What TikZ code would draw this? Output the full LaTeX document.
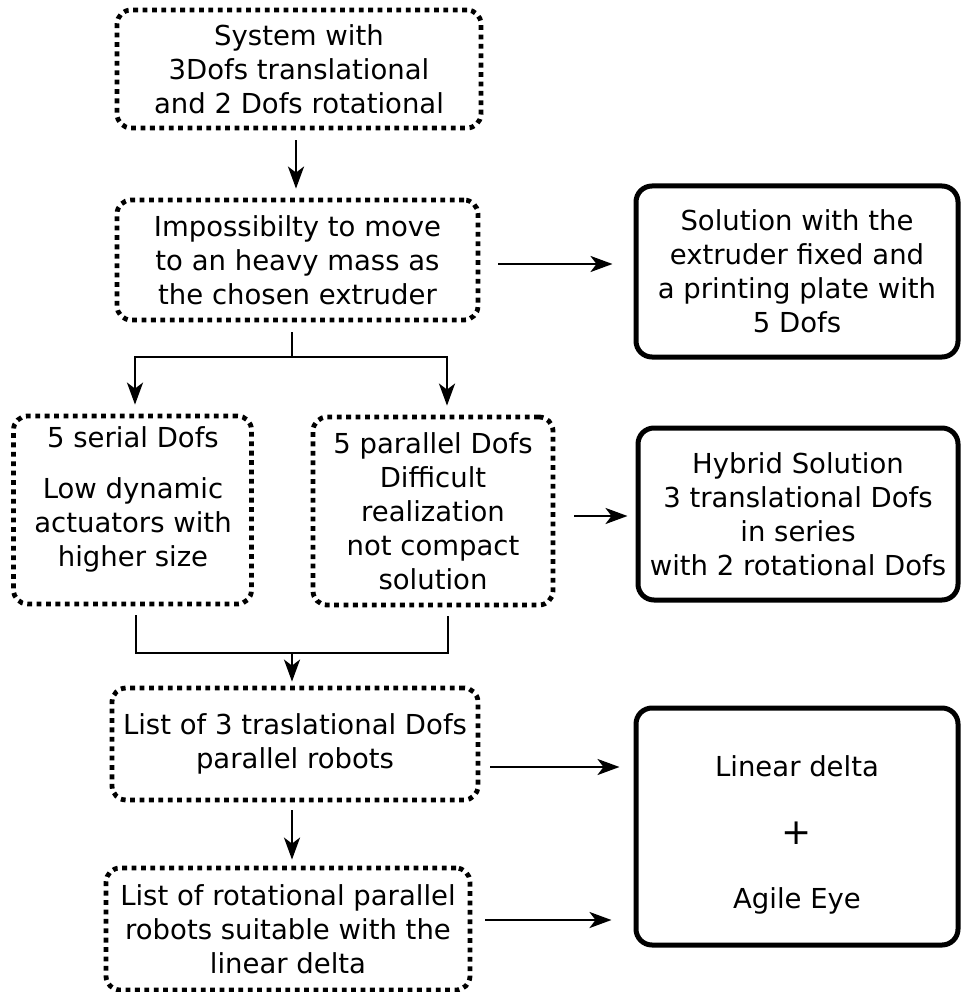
\documentclass[tikz,border=0pt]{standalone}
\usepackage{fontspec}
\setmainfont{DejaVu Sans}
\usetikzlibrary{arrows.meta}
\begin{document}
\begin{tikzpicture}[x=1pt,y=-1pt,
  dotbox/.style={draw, line width=4.8pt, dash pattern=on 4.8pt off 4.6pt,
    rounded corners=14pt, inner sep=0pt, align=center},
  solidbox/.style={draw, line width=5pt, rounded corners=16pt,
    inner sep=0pt, align=center},
  txt/.style={inner sep=0pt, align=center},
  conn/.style={line width=2.7pt},
  arr/.style={conn, -{Stealth[length=22pt, width=16pt, inset=6pt]}},
  font=\fontsize{27.5}{34}\selectfont]
\useasboundingbox (0,0) rectangle (960,992);

% left column of dotted boxes
\node[dotbox, minimum width=364pt, minimum height=118pt] (sys) at (299,69)
  {System with\\3Dofs translational\\and 2 Dofs rotational};
\node[dotbox, minimum width=361pt, minimum height=120pt] (imp) at (297.5,260)
  {Impossibilty to move\\to an heavy mass as\\the chosen extruder};
\node[dotbox, minimum width=238pt, minimum height=188pt] (ser) at (132.5,510) {};
\node[txt] (sert) at (133,499) {5 serial Dofs\\[17pt]Low dynamic\\actuators with\\higher size};
\node[dotbox, minimum width=240pt, minimum height=188pt] (par) at (433,511)
  {5 parallel Dofs\\Difficult\\realization\\not compact\\solution};
\node[dotbox, minimum width=366pt, minimum height=112pt] (tra) at (295,744)
  {List of 3 traslational Dofs\\parallel robots};
\node[dotbox, minimum width=364pt, minimum height=122pt] (rot) at (288,929)
  {List of rotational parallel\\robots suitable with the\\linear delta};

% right column of solid boxes
\node[solidbox, minimum width=322pt, minimum height=171pt] (fix) at (797,271.5)
  {Solution with the\\extruder fixed and\\a printing plate with\\5 Dofs};
\node[solidbox, minimum width=320pt, minimum height=172pt] (hyb) at (798,514)
  {Hybrid Solution\\3 translational Dofs\\in series\\with 2 rotational Dofs};
\node[solidbox, minimum width=322pt, minimum height=237pt] (lin) at (797,826.5) {};
\node[txt] (lint) at (797,835) {Linear delta\\[34pt]{\fontsize{36}{36}\selectfont +}\\[30pt]Agile Eye};

% junction points of the split and merge connectors
\coordinate (split) at (292,357);
\coordinate (merge) at (292,653);

% connectors
\draw[arr] ([yshift=-10pt]sys.south -| 296,0) -- ([yshift=9pt]imp.north -| 296,0);
\draw[arr] ([xshift=18pt]imp.east |- 0,264) -- ([xshift=-21pt]fix.west |- 0,264);
\draw[conn] ([yshift=-10pt]imp.south -| split) -- (split);
\draw[arr] (split) -| ([yshift=9pt]ser.north -| 135,0);
\draw[arr] (split) -| ([yshift=9pt]par.north -| 447,0);
\draw[arr] ([xshift=19pt]par.east |- 0,516) -- ([xshift=-8pt]hyb.west |- 0,516);
\draw[conn] ([yshift=-9pt]ser.south -| 136,0) |- (merge);
\draw[conn] ([yshift=-9pt]par.south -| 448,0) |- (merge);
\draw[arr] (merge) -- ([yshift=4pt]tra.north -| merge);
\draw[arr] ([xshift=10pt]tra.east |- 0,767) -- ([xshift=-14pt]lin.west |- 0,767);
\draw[arr] ([yshift=-8pt]tra.south -| 292,0) -- ([yshift=6pt]rot.north -| 292,0);
\draw[arr] ([xshift=13pt]rot.east |- 0,920) -- ([xshift=-22pt]lin.west |- 0,920);
\end{tikzpicture}
\end{document}
